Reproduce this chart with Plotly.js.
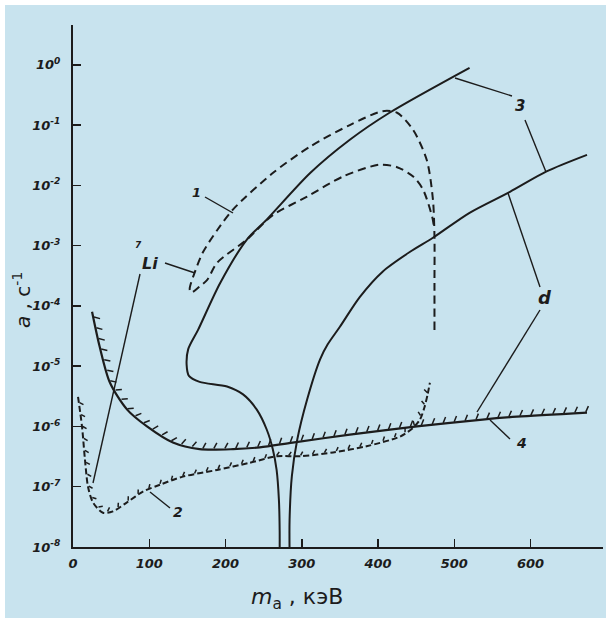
<!DOCTYPE html>
<html>
<head>
<meta charset="utf-8">
<script src="https://cdn.plot.ly/plotly-3.0.1.min.js"></script>
<style>
  html, body { margin: 0; padding: 0; background: #ffffff; }
  #chart { width: 611px; height: 623px; }
</style>
</head>
<body>
<div id="chart"></div>
<script>
// ---- Data ----
// Curve 3 (solid), left branch with knee
const curve3aX = [520, 415, 363, 311, 254, 228, 193, 164, 151, 149, 152, 166, 202, 223, 241, 254, 262, 267, 270, 271, 271];
const curve3aY = [0.89, 0.16, 0.057, 0.016, 2.7e-3, 1.26e-3, 2.4e-4, 4.0e-5, 1.9e-5, 1.05e-5, 6.9e-6, 5.5e-6, 4.6e-6, 3.4e-6, 1.9e-6, 8.9e-7, 4.2e-7, 1.9e-7, 6.1e-8, 1.9e-8, 8e-9];
// Curve 3 (solid), right branch
const curve3bX = [674, 621, 573, 520, 472, 442, 406, 376, 350, 334, 324, 307, 294, 287, 284, 284];
const curve3bY = [0.032, 0.017, 7.8e-3, 3.5e-3, 1.35e-3, 7.9e-4, 3.7e-4, 1.4e-4, 4.5e-5, 2.3e-5, 1.3e-5, 2.8e-6, 6.0e-7, 1.5e-7, 2.8e-8, 8e-9];
// Curve 1 (dashed loop: vertical, outer arc, turn, inner arc)
const curve1X = [474, 474, 474, 472, 464, 446, 425, 406, 363, 311, 262, 210, 189, 170, 160, 153, 155, 166, 176, 189, 228, 262, 307, 354, 402, 425, 446, 459, 471, 473];
const curve1Y = [4.0e-5, 2.4e-4, 1.4e-3, 5.8e-3, 0.026, 0.083, 0.16, 0.17, 0.10, 0.044, 0.016, 4.0e-3, 1.8e-3, 7.6e-4, 3.7e-4, 1.9e-4, 1.66e-4, 2.1e-4, 2.7e-4, 5.2e-4, 1.26e-3, 3.2e-3, 6.5e-3, 0.014, 0.022, 0.020, 0.014, 8.5e-3, 3.0e-3, 2.2e-3];
// Curve 2 (dashed, hatched)
const curve2X = [6.6, 11.8, 15.7, 19.7, 26.2, 39.3, 52.4, 70.8, 91.7, 114, 144, 189, 232, 267, 298, 341, 385, 429, 446, 455, 461, 465, 468];
const curve2Y = [3.1e-6, 1.0e-6, 2.8e-7, 1.0e-7, 5.5e-8, 3.7e-8, 3.9e-8, 5.5e-8, 8.3e-8, 1.08e-7, 1.47e-7, 1.9e-7, 2.5e-7, 3.2e-7, 3.2e-7, 3.7e-7, 4.7e-7, 6.8e-7, 9.5e-7, 1.3e-6, 2.1e-6, 3.4e-6, 5.3e-6];
// Curve 4 (solid, hatched)
const curve4X = [25, 35, 48.5, 71, 97, 131, 166, 210, 245, 288, 363, 451, 537, 582, 674];
const curve4Y = [8e-5, 2.1e-5, 5.3e-6, 1.9e-6, 1.0e-6, 5.4e-7, 4.2e-7, 4.2e-7, 4.5e-7, 5.4e-7, 7.3e-7, 1.0e-6, 1.3e-6, 1.45e-6, 1.7e-6];

// Ticks
const xTickVals = [0, 100, 200, 300, 400, 500, 600];
const xTickText = ['0', '100', '200', '300', '400', '500', '600'];
const yTickVals = [1e-8, 1e-7, 1e-6, 1e-5, 1e-4, 1e-3, 1e-2, 1e-1, 1];
const yTickText = ['10<sup>-8</sup>', '10<sup>-7</sup>', '10<sup>-6</sup>', '10<sup>-5</sup>', '10<sup>-4</sup>', '10<sup>-3</sup>', '10<sup>-2</sup>', '10<sup>-1</sup>', '10<sup>0</sup>'];

// ---- Geometry ----
const W = 611, H = 623;
const M = {l: 73, r: 8, t: 25, b: 76};
const PW = W - M.l - M.r, PH = H - M.t - M.b;
const XR = [0, 695], YR = [-8, 0.66];
const INK = '#1c1c1c';
const BG = '#c8e3ee';

// Hatch marks along a curve (decoration derived from the curve's data)
function hatch(xs, ys, step, len, angDeg) {
  const P = xs.map((x, i) => [(x - XR[0]) / (XR[1] - XR[0]) * PW,
                              (Math.log10(ys[i]) - YR[0]) / (YR[1] - YR[0]) * PH]);
  const a = angDeg * Math.PI / 180;
  const ox = [], oy = [];
  const back = (px, py) => [px / PW * (XR[1] - XR[0]) + XR[0], Math.pow(10, py / PH * (YR[1] - YR[0]) + YR[0])];
  let acc = step / 2;
  for (let i = 0; i < P.length - 1; i++) {
    const [x0, y0] = P[i], [x1, y1] = P[i + 1];
    const seg = Math.hypot(x1 - x0, y1 - y0);
    if (seg === 0) continue;
    const tx = (x1 - x0) / seg, ty = (y1 - y0) / seg;
    const nx = -ty, ny = tx;
    let d = acc;
    while (d <= seg) {
      const bx = x0 + tx * d, by = y0 + ty * d;
      const hx = nx * Math.cos(a) + tx * Math.sin(a);
      const hy = ny * Math.cos(a) + ty * Math.sin(a);
      const b = back(bx + nx * 0.8, by + ny * 0.8);
      const e = back(bx + hx * len, by + hy * len);
      ox.push(b[0], e[0], null); oy.push(b[1], e[1], null);
      d += step;
    }
    acc = d - seg;
  }
  return {x: ox, y: oy};
}

const h4 = hatch(curve4X, curve4Y, 11, 7, 25);
const h2 = hatch(curve2X, curve2Y, 12, 5, 30);

const traces = [
  {x: curve3aX, y: curve3aY, mode: 'lines', line: {color: INK, width: 2, shape: 'spline', smoothing: 0.8}, hoverinfo: 'skip'},
  {x: curve3bX, y: curve3bY, mode: 'lines', line: {color: INK, width: 2, shape: 'spline', smoothing: 0.8}, hoverinfo: 'skip'},
  {x: curve1X, y: curve1Y, mode: 'lines', line: {color: INK, width: 2, dash: '8px,5px', shape: 'spline', smoothing: 0.8}, hoverinfo: 'skip'},
  {x: curve2X, y: curve2Y, mode: 'lines', line: {color: INK, width: 2, dash: '6px,3px', shape: 'spline', smoothing: 0.8}, hoverinfo: 'skip'},
  {x: h2.x, y: h2.y, mode: 'lines', line: {color: INK, width: 1.5}, connectgaps: false, hoverinfo: 'skip'},
  {x: curve4X, y: curve4Y, mode: 'lines', line: {color: INK, width: 2.2, shape: 'spline', smoothing: 0.8}, hoverinfo: 'skip'},
  {x: h4.x, y: h4.y, mode: 'lines', line: {color: INK, width: 1.5}, connectgaps: false, hoverinfo: 'skip'}
];

// pixel -> paper helpers for labels/leaders
const px = v => (v - M.l) / PW;
const py = v => (H - M.b - v) / PH;
function leader(x0, y0, x1, y1) {
  return {type: 'line', xref: 'paper', yref: 'paper', x0: px(x0), y0: py(y0), x1: px(x1), y1: py(y1),
          line: {color: INK, width: 1.4}};
}
function label(text, x, y, size) {
  return {text: text, xref: 'paper', yref: 'paper', x: px(x), y: py(y), showarrow: false,
          xanchor: 'center', yanchor: 'middle',
          font: {family: 'DejaVu Sans', size: size || 14, color: INK, weight: 'bold', style: 'italic'}};
}

const shapes = [
  leader(205, 197, 233, 213),
  leader(165, 263, 195, 273),
  leader(140, 274, 93, 483),
  leader(150, 492, 170, 508),
  leader(455, 78, 512, 96),
  leader(525, 120, 546, 172),
  leader(540, 287, 508, 193),
  leader(540, 310, 477, 412),
  leader(490, 420, 510, 439),
  // white scan border
  {type: 'rect', xref: 'paper', yref: 'paper', x0: px(0), x1: px(W), y0: py(H), y1: py(0),
   line: {color: '#ffffff', width: 10}, layer: 'above'}
];

const annotations = [
  label('1', 196, 192, 13),
  label('7', 138, 245, 9),
  label('Li', 150, 263, 16),
  label('2', 178, 512, 14),
  label('3', 520, 106, 15),
  label('4', 521, 443, 14),
  label('d', 545, 297, 18),
  {text: '<i>m</i><sub>a</sub> , кэВ', xref: 'paper', yref: 'paper', x: px(297), y: py(598), showarrow: false,
   xanchor: 'center', yanchor: 'middle', font: {family: 'DejaVu Sans', size: 22, color: INK}},
  {text: '<i>a</i> , с<sup>-1</sup>', xref: 'paper', yref: 'paper', x: px(22), y: py(300), showarrow: false,
   textangle: -90, xanchor: 'center', yanchor: 'middle', font: {family: 'DejaVu Sans', size: 20, color: INK}}
];

const tickFont = {family: 'DejaVu Sans', size: 13, color: INK, weight: 'bold', style: 'italic'};

const layout = {
  width: W, height: H,
  margin: M,
  paper_bgcolor: BG, plot_bgcolor: BG,
  showlegend: false,
  xaxis: {range: XR, showline: true, linecolor: INK, linewidth: 2, ticks: 'inside', ticklen: 8, tickwidth: 1.5,
          tickcolor: INK, tickvals: xTickVals, ticktext: xTickText, tickfont: tickFont, showgrid: false,
          zeroline: false, ticklabelstandoff: 3, fixedrange: true},
  yaxis: {type: 'log', range: YR, showline: true, linecolor: INK, linewidth: 2, ticks: 'inside', ticklen: 8, tickwidth: 1.5,
          tickcolor: INK, tickvals: yTickVals, ticktext: yTickText, tickfont: tickFont, showgrid: false,
          zeroline: false, ticklabelstandoff: 8, fixedrange: true},
  shapes: shapes,
  annotations: annotations
};

Plotly.newPlot('chart', traces, layout, {displayModeBar: false, staticPlot: true});
</script>
</body>
</html>
